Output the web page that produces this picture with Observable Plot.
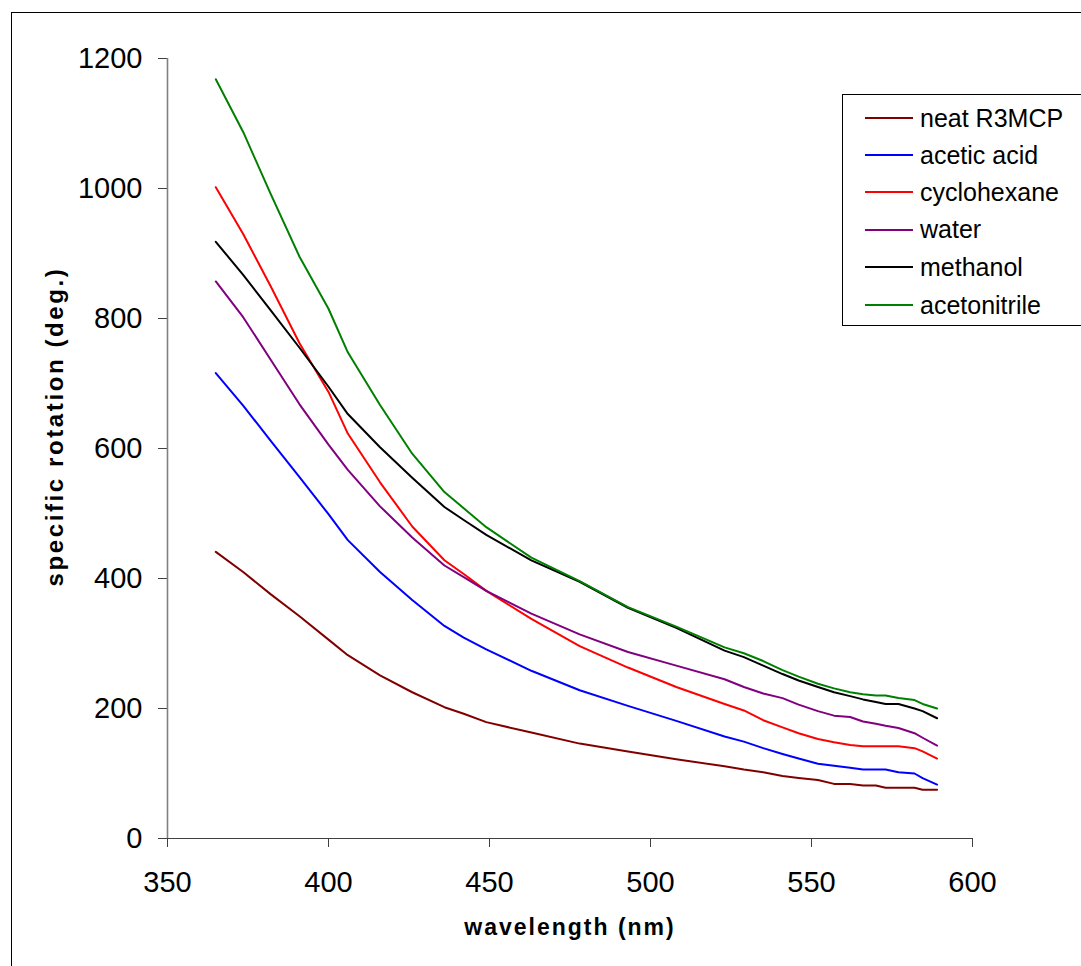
<!DOCTYPE html>
<html>
<head>
<meta charset="utf-8">
<script src="https://cdn.jsdelivr.net/npm/d3@7"></script>
<script src="https://cdn.jsdelivr.net/npm/@observablehq/plot@0.6"></script>
<style>
  html, body { margin: 0; padding: 0; background: #fff; }
  body { width: 1081px; height: 966px; overflow: hidden; position: relative; font-family: 'Liberation Sans', Arial, sans-serif; }
  #frame { position: absolute; left: 11px; top: 12px; width: 1200px; height: 1200px; border-left: 1px solid #000; border-top: 1px solid #000; }
  #chart { position: absolute; left: 0; top: 0; }
  #legend { position: absolute; left: 842px; top: 94px; width: 240px; height: 232px; border: 1px solid #000; background: #fff; box-sizing: border-box; }
  .row { position: absolute; left: 0; height: 30px; display: flex; align-items: center; }
  .row .sw { width: 48px; height: 2px; margin-left: 22px; margin-right: 7px; }
  .row .lb { font-size: 25px; color: #000; white-space: nowrap; }
</style>
</head>
<body>
<div id="frame"></div>
<div id="chart"></div>
<div id="legend"></div>
<script>
const wavelengths = [365, 373.5, 382, 391, 400, 406, 416, 426, 436, 442, 449, 463, 478, 493, 508, 523, 529, 535, 541, 546, 552, 557, 562, 566, 570, 573, 577, 582, 584.5, 589];

const neatR3MCP   = [441, 410, 376, 342, 306, 282, 251, 225, 202, 192, 179, 163, 146, 134, 122, 111, 106, 102, 96, 93, 90, 84, 84, 81.5, 81.5, 78, 78, 78, 75, 75];
const aceticAcid  = [716, 666, 612, 556, 499, 459, 410, 367, 327, 309, 291, 258, 228, 204, 181, 157, 149, 139, 130, 123, 115, 112, 109, 106, 106, 106, 102, 100, 93, 83];
const cyclohexane = [1002, 930, 850, 762, 687, 623, 548, 480, 428, 407, 381, 338, 296, 263, 233, 207, 197, 182, 171, 162, 153, 148, 144, 142, 142, 142, 142, 139, 134, 123];
const water       = [857, 802, 737, 668, 606, 567, 511, 463, 420, 402, 381, 346, 314, 287, 266, 245, 233, 223, 216, 206, 196, 189, 187, 180, 176.5, 173.5, 170, 162, 155, 143];
const methanol    = [918, 867, 813, 755, 695, 653, 602, 555, 510, 490, 467, 428, 395, 355, 324, 289, 279, 266, 253, 243, 233, 225, 219, 214, 210, 207, 207, 200, 196, 185];
const acetonitrile= [1168, 1087, 992, 895, 815, 748, 667, 592, 533, 508, 479, 432, 396, 356, 326, 294, 285, 273, 259, 249, 238, 231, 225, 222, 220, 220, 216, 213, 207, 200];

const seriesNames  = ["neat R3MCP", "acetic acid", "cyclohexane", "water", "methanol", "acetonitrile"];
const seriesColors = ["#800000", "#0000FF", "#FF0000", "#800080", "#000000", "#008000"];
const seriesValues = [neatR3MCP, aceticAcid, cyclohexane, water, methanol, acetonitrile];

const xTicks = [350, 400, 450, 500, 550, 600];
const yTicks = [0, 200, 400, 600, 800, 1000, 1200];
const xTitle = "wavelength (nm)";
const yTitle = "specific rotation (deg.)";

const data = seriesNames.flatMap((name, s) =>
  wavelengths.map((w, i) => ({ w, v: seriesValues[s][i], name })));

const chart = Plot.plot({
  width: 1081,
  height: 966,
  marginLeft: 167,
  marginRight: 109,
  marginTop: 58,
  marginBottom: 128,
  style: { fontFamily: "'Liberation Sans', Arial, sans-serif", fontSize: "29px", background: "transparent", overflow: "visible", color: "#000" },
  x: { domain: [350, 600] },
  y: { domain: [0, 1200] },
  color: { domain: seriesNames, range: seriesColors },
  marks: [
    Plot.axisX({ ticks: xTicks, tickSize: 9, tickPadding: 24, tickFormat: d => String(d), label: null, stroke: "#404040", fontSize: 29 }),
    Plot.axisY({ ticks: yTicks, tickSize: 9, tickPadding: 16, tickFormat: d => String(d), label: null, stroke: "#404040", fontSize: 29 }),
    Plot.ruleY([0], { x1: 350, x2: 600, stroke: "#404040", strokeWidth: 1.2 }),
    Plot.ruleX([350], { y1: 0, y2: 1200, stroke: "#808080", strokeWidth: 1.6 }),
    Plot.line(data, { x: "w", y: "v", z: "name", stroke: "name", strokeWidth: 2 }),
    Plot.text([xTitle], { text: d => d, frameAnchor: "bottom", dy: 96, fontWeight: "bold", fontSize: 23, fill: "#000", className: "xtitle" }),
    Plot.text([yTitle], { text: d => d, frameAnchor: "left", textAnchor: "middle", dx: -112, dy: -22, rotate: -90, fontWeight: "bold", fontSize: 24, fill: "#000", className: "ytitle" })
  ]
});
d3.select(chart).selectAll(".xtitle text").attr("letter-spacing", "2px");
d3.select(chart).selectAll(".ytitle text").attr("letter-spacing", "2.6px");
document.getElementById("chart").appendChild(chart);

const legend = document.getElementById("legend");
const rowCenters = [23, 60, 97, 134.5, 172, 210];
seriesNames.forEach((name, i) => {
  const row = document.createElement("div");
  row.className = "row";
  row.style.top = (rowCenters[i] - 15) + "px";
  const sw = document.createElement("div");
  sw.className = "sw";
  sw.style.background = seriesColors[i];
  const lb = document.createElement("span");
  lb.className = "lb";
  lb.textContent = name;
  row.appendChild(sw);
  row.appendChild(lb);
  legend.appendChild(row);
});
</script>
</body>
</html>
